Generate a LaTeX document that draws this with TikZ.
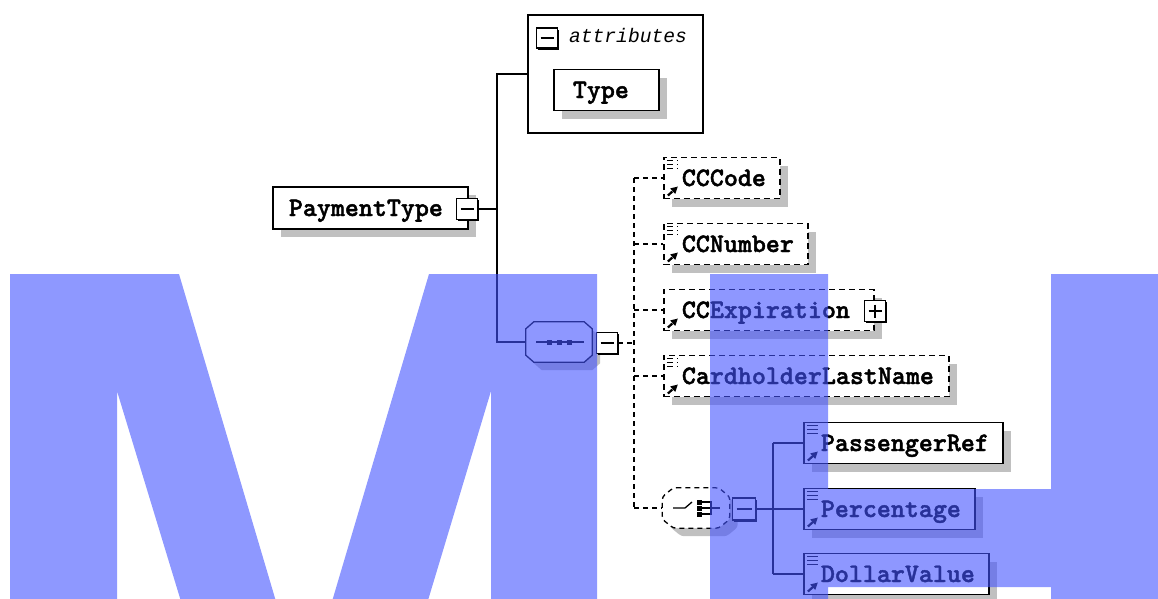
\documentclass[tikz,border=0pt]{standalone}
\usepackage{fontspec}
\newfontfamily\xsdmono{Liberation Mono}
\newfontfamily\xsdslab{lmmonolt10-bold.otf}[FakeBold=1.6]
\usetikzlibrary{shadows,arrows.meta}
\definecolor{wmblue}{RGB}{67,83,255}
\definecolor{shadowgray}{RGB}{192,192,192}
% octagon round a named node: #1 node, #2 horizontal cut, #3 vertical cut
\newcommand\octagonpath[3]{([xshift=#2]#1.north west) -- ([xshift=-#2]#1.north east) -- ([yshift=-#3]#1.north east)
  -- ([yshift=#3]#1.south east) -- ([xshift=-#2]#1.south east) -- ([xshift=#2]#1.south west)
  -- ([yshift=#3]#1.south west) -- ([yshift=-#3]#1.north west) -- cycle}
\tikzset{
  boxshadow/.style={drop shadow={shadow xshift=8pt,shadow yshift=-8pt,fill=shadowgray,opacity=1}},
  pads/.style 2 args={inner xsep=0pt,execute at begin node={\hspace*{#1}},execute at end node={\hspace*{#2}}},
  elembox/.style={draw,line width=1.8pt,fill=white,minimum height=41pt,inner ysep=0pt,anchor=west,
    font={\xsdslab\bfseries\fontsize{26.67}{27}\selectfont},text height=17pt,text depth=1pt,boxshadow},
  optbox/.style={elembox,dash pattern=on 6pt off 4pt},
  refarrow/.style={path picture={
      \draw[line width=2.2pt,-{Triangle[length=7pt,width=7pt]}]
        ([shift={(4,-3)}]path picture bounding box.south west) -- ++(10,-9);}},
  refmark/.style={path picture={
      \foreach \k in {3,7,11}
        \draw[line width=1.8pt] ([shift={(3,\k)}]path picture bounding box.north west) -- ++(11,0);
      \draw[line width=2.2pt,-{Triangle[length=7pt,width=7pt]}]
        ([shift={(4,-3)}]path picture bounding box.south west) -- ++(10,-9);}},
  btn/.style={draw,line width=1.3pt,fill=white,minimum width=21pt,minimum height=21pt,inner sep=0pt,
    drop shadow={shadow xshift=1.5pt,shadow yshift=-1.5pt,fill=black,opacity=1}},
  minusbtn/.style={btn,path picture={
      \draw[line width=1.3pt] ([xshift=4pt]path picture bounding box.west) -- ([xshift=-4pt]path picture bounding box.east);}},
  plusbtn/.style={btn,path picture={
      \draw[line width=1.3pt] ([xshift=4pt]path picture bounding box.west) -- ([xshift=-4pt]path picture bounding box.east);
      \draw[line width=1.3pt] ([yshift=-4pt]path picture bounding box.north) -- ([yshift=4pt]path picture bounding box.south);}},
  groupspot/.style={minimum height=40pt,inner sep=0pt},
  octline/.style={line width=1.3pt,fill=white},
  octshadow/.style={fill=shadowgray,transform canvas={xshift=8pt,yshift=-8pt}},
  conn/.style={line width=1.4pt},
  optconn/.style={conn,dash pattern=on 5pt off 4pt}
}
\begin{document}
\begin{tikzpicture}[x=1pt,y=-1pt]
  \useasboundingbox (0,0) rectangle (1158,598);

  % Root element and its attributes
  \node[elembox,pads={16pt}{25pt},minimum height=42pt] (payment) at (272,208) {PaymentType};
  \node[minusbtn] (paybtn) at (467,209) {};
  \node[draw,line width=1.8pt,fill=white,minimum width=175pt,minimum height=118pt,anchor=north west] (attrs) at (527,14) {};
  \node[minusbtn,minimum height=20pt] (attrbtn) at (547,38) {};
  \node[anchor=west,inner sep=0pt,font={\xsdmono\itshape\fontsize{19.6}{20}\selectfont}] (attrlabel) at (569,35) {attributes};
  \node[elembox,pads={19pt}{30pt}] (type) at (553,90) {Type};

  % Sequence group
  \node[groupspot,minimum width=66pt] (seq) at (559,342) {};
  \fill[octshadow] \octagonpath{seq}{8pt}{7pt};
  \draw[octline] \octagonpath{seq}{8pt}{7pt};
  \draw[line width=1.3pt] ([xshift=-23pt]seq.center) -- ++(48,0);
  \foreach \dx in {-10,0,10}
    \fill ([xshift=\dx pt]seq.center) ++(-2.5,-2.5) rectangle ++(5,5);
  \node[minusbtn] (seqbtn) at (607,343) {};

  % Optional children of the sequence
  \node[optbox,refmark,pads={18pt}{14pt}] (cccode) at (663,178) {CCCode};
  \node[optbox,refmark,pads={18pt}{14pt}] (ccnumber) at (663,244) {CCNumber};
  \node[optbox,refarrow,pads={18pt}{24pt}] (ccexp) at (663,310) {CCExpiration};
  \node[plusbtn] (ccexpbtn) at (875,311) {};
  \node[optbox,refmark,pads={18pt}{15pt}] (cardholder) at (663,376) {CardholderLastName};

  % Choice group
  \node[groupspot,minimum width=67pt] (choice) at (696,508) {};
  \fill[octshadow,rounded corners=3pt] \octagonpath{choice}{11pt}{9pt};
  \draw[octline,rounded corners=3pt,dash pattern=on 5pt off 4pt] \octagonpath{choice}{11pt}{9pt};
  \draw[line width=1.3pt] ([xshift=-23pt]choice.center) -- ++(12,0) -- ++(7,-6);
  \foreach \dy in {-6,0,6}
    \fill ([shift={(3,\dy)}]choice.center) ++(-2.5,-2.5) rectangle ++(5,5);
  \draw[line width=1.2pt] ([shift={(6,-6)}]choice.center) -- ++(9,0) -- ++(0,12) -- ++(-9,0);
  \draw[line width=1.2pt] ([xshift=6pt]choice.center) -- ++(18,0);
  \node[minusbtn,minimum width=23pt,minimum height=22pt] (choicebtn) at (744,509) {};

  % Children of the choice
  \node[elembox,refmark,pads={17pt}{14pt}] (passref) at (803,443) {PassengerRef};
  \node[elembox,refmark,pads={17pt}{14pt}] (percent) at (803,509) {Percentage};
  \node[elembox,refmark,pads={17pt}{14pt}] (dollar) at (803,574) {DollarValue};

  % Connectors
  \coordinate (payhub) at (497,209);
  \draw[conn] (paybtn.east) -- (payhub) |- (attrs.west);
  \draw[conn] (payhub) |- (seq.west);

  \coordinate (seqhub) at (634,343);
  \draw[optconn] (seqbtn.east) -- (seqhub);
  \draw[optconn] (cccode.west -| seqhub) -- (choice.west -| seqhub);
  \foreach \n in {cccode,ccnumber,ccexp,cardholder,choice}
    \draw[optconn] (\n.west -| seqhub) -- (\n.west);

  \coordinate (choicehub) at (773,509);
  \draw[conn] (choicebtn.east) -- (choicehub);
  \draw[conn] (passref.west -| choicehub) -- (dollar.west -| choicehub);
  \foreach \n in {passref,percent,dollar}
    \draw[conn] (\n.west -| choicehub) -- (\n.west);

  % Watermark
  \begin{scope}
    \clip (0,0) rectangle (1158,598);
    \fill[wmblue,fill opacity=0.6] (10,274) -- (179,274) -- (304,696) -- (429,274) -- (597,274)
      -- (597,700) -- (491,700) -- (491,391) -- (398,700) -- (211,700) -- (117,391) -- (117,700) -- (10,700) -- cycle;
    \fill[wmblue,fill opacity=0.6] (710,274) -- (828,274) -- (828,489) -- (1051,489) -- (1051,274) -- (1200,274)
      -- (1200,700) -- (1051,700) -- (1051,587) -- (828,587) -- (828,700) -- (710,700) -- cycle;
  \end{scope}
\end{tikzpicture}
\end{document}
